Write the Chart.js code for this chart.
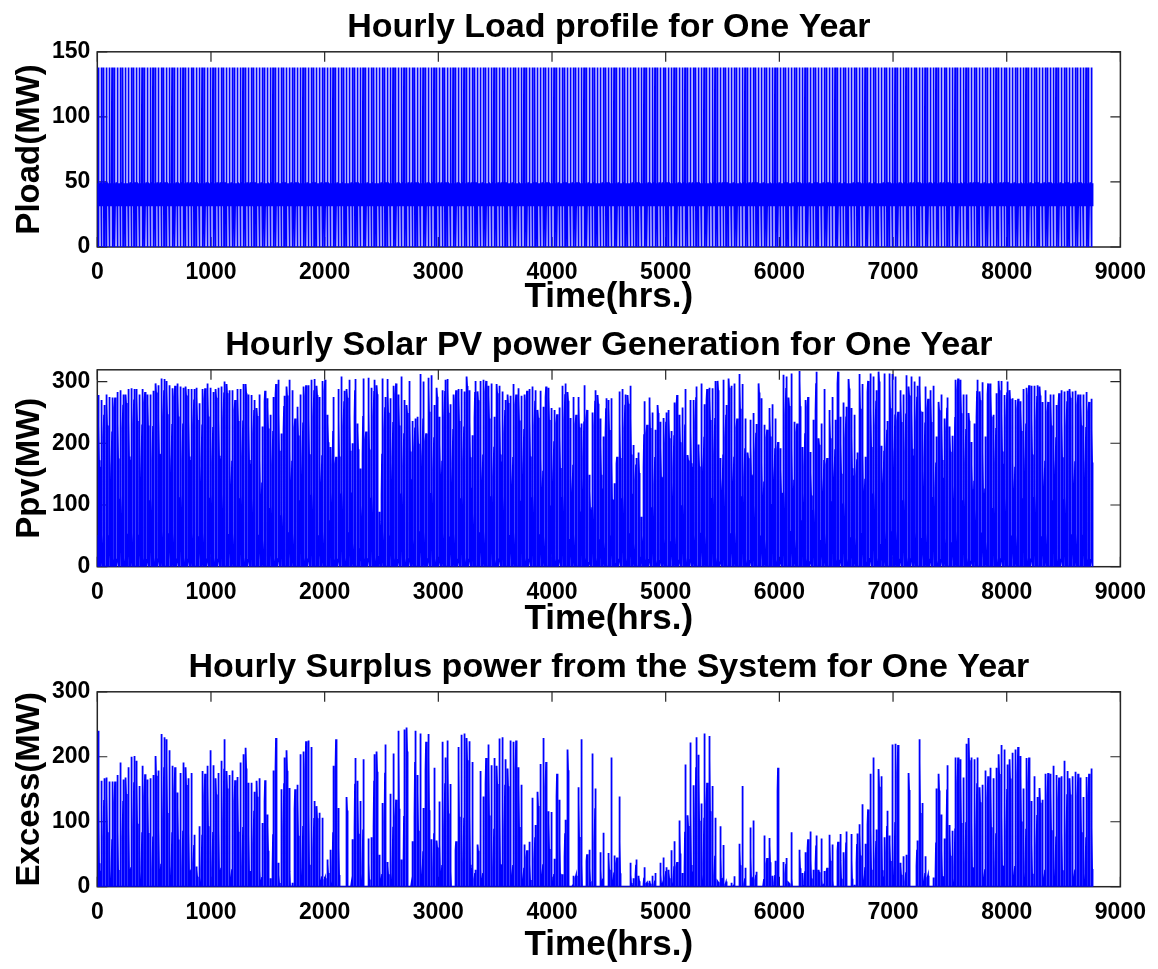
<!DOCTYPE html>
<html>
<head>
<meta charset="utf-8">
<title>Hourly Load, PV and Surplus Power</title>
<script src="https://cdn.jsdelivr.net/npm/chart.js@4.4.1/dist/chart.umd.min.js"></script>
<style>
  html, body { margin: 0; padding: 0; background: #fff; }
  #wrap { position: relative; width: 1158px; height: 969px; overflow: hidden; }
  canvas { position: absolute; left: 0; }
</style>
</head>
<body>
<div id="wrap">
  <canvas id="load-chart" width="1158" height="318" style="top:0px"></canvas>
  <canvas id="pv-chart" width="1158" height="322" style="top:318px"></canvas>
  <canvas id="excess-chart" width="1158" height="329" style="top:640px"></canvas>
</div>
<script>
// Hourly load, PV generation and surplus over one year (8760 h)
// Each day is built from that day's peak and a 24-hour profile.

const hourTicks = [0, 1000, 2000, 3000, 4000, 5000, 6000, 7000, 8000, 9000];
const loadTicks = [0, 50, 100, 150];
const pvTicks = [0, 100, 200, 300];
const excessTicks = [0, 100, 200, 300];

// load (MW) for each hour of a day, same every day
const loadDay = [32, 32, 32, 32, 32, 49, 49, 32, 49, 49, 138, 0, 32, 49, 49, 32, 49, 49, 32, 49, 49, 32, 32, 32];

// share of the day's peak for each hour
const pvShape = [0, 0, 0, 0, 0, 0, 0.04, 0.18, 0.38, 0.6, 0.8, 0.94, 1, 0.95, 0.82, 0.62, 0.4, 0.19, 0.05, 0, 0, 0, 0, 0];
const excessShape = [0, 0, 0, 0, 0, 0, 0, 0, 0, 0.15, 0.45, 0.8, 1, 0.85, 0.5, 0.15, 0, 0, 0, 0, 0, 0, 0, 0];

// daily PV peak (MW), day 1..365
const pvPeak = [
  278, 270, 262, 279, 275, 274, 274, 283, 286, 279,
  279, 288, 289, 288, 288, 279, 288, 283, 279, 279,
  285, 297, 294, 305, 304, 301, 294, 289, 293, 297,
  292, 290, 292, 288, 288, 288, 290, 265, 288, 289,
  297, 290, 283, 288, 290, 292, 300, 296, 286, 286,
  270, 288, 288, 296, 296, 279, 278, 270, 257, 279,
  227, 285, 273, 246, 275, 296, 303, 216, 277, 292,
  303, 286, 240, 259, 279, 292, 294, 294, 303, 304,
  293, 275, 301, 303, 246, 194, 275, 178, 288, 308,
  285, 288, 303, 200, 304, 232, 159, 305, 219, 306,
  290, 303, 294, 89, 305, 275, 304, 273, 293, 297,
  279, 308, 270, 262, 301, 236, 240, 243, 312, 300,
  216, 306, 310, 262, 290, 243, 286, 303, 304, 263,
  279, 286, 288, 288, 284, 308, 286, 213, 301, 284,
  301, 303, 301, 293, 297, 243, 296, 293, 284, 270,
  279, 277, 296, 279, 289, 277, 279, 285, 288, 292,
  286, 254, 285, 259, 292, 290, 257, 254, 247, 258,
  293, 297, 283, 241, 275, 246, 275, 232, 294, 254,
  149, 250,
  286, 278, 240, 211, 273, 270, 273, 135, 178, 284,
  288, 279, 278, 293, 197, 176, 185, 81, 268, 230,
  274, 250, 222, 262, 235, 241, 250, 254, 220, 266,
  278, 246, 258, 288, 181, 270, 270, 292, 198, 297,
  263, 288, 290, 289, 301, 301, 176, 303, 262, 305,
  293, 297, 240, 312, 296, 240, 185, 238, 249, 231,
  297, 273, 230, 222, 257, 263, 240, 202, 192, 311,
  308, 274, 313, 235, 232, 317, 194, 270, 275, 186,
  238, 316, 208, 232, 288, 176, 254, 275, 238, 316,
  243, 266, 259, 304, 257, 246, 185, 312, 296, 178,
  301, 313, 308, 286, 316, 196, 313, 236, 313, 312,
  308, 251, 286, 279, 310, 292, 308, 300, 293, 308,
  251, 292, 272, 286, 293, 211, 267, 279, 240, 274,
  227, 212, 303, 305, 303, 279, 279, 249, 202, 232,
  303, 284, 299, 211, 297, 297, 246, 281, 301, 301,
  278, 300, 286, 273, 270, 272, 268, 288, 290, 294,
  293, 293, 294, 292, 267, 286, 267, 279, 279, 262,
  281, 286, 284, 285, 288, 284, 285, 279, 279, 279,
  283, 267, 272
];

// daily surplus peak (MW), day 1..365
const excessPeak = [
  240, 163, 167, 168, 162, 162, 162, 172, 191, 165,
  168, 184, 200, 201, 194, 155, 186, 173, 165, 167,
  172, 201, 179, 235, 230, 227, 210, 186, 184, 145,
  175, 191, 184, 167, 175, 80, 31, 93, 178, 174,
  186, 210, 187, 167, 175, 194, 227, 178, 172, 179,
  164, 169, 191, 204, 214, 160, 160, 146, 163, 167,
  98, 164, 111, 13, 179, 229, 37, 150, 199, 210,
  152, 6, 150, 157, 204, 208, 224, 225, 215, 132,
  124, 114, 106, 13, 42, 57, 186, 227, 121, 0,
  0, 138, 0, 73, 198, 163, 132, 196, 0, 74,
  76, 204, 208, 49, 129, 219, 38, 143, 205, 134,
  240, 42, 242, 245, 0, 70, 240, 172, 236, 121,
  223, 235, 73, 183, 71, 131, 223, 199, 225, 158,
  0, 70, 215, 234, 236, 229, 224, 192, 26, 65,
  178, 139, 198, 219, 187, 198, 186, 228, 230, 196,
  182, 225, 223, 225, 184, 157, 65, 56, 69, 137,
  95, 146, 189, 229, 192, 116, 115, 43, 174, 134,
  19, 103, 211, 0, 17, 17, 153, 227, 0, 50,
  57, 205, 151, 0,
  53, 83, 0, 52, 199, 48,
  45, 139, 0, 0, 0, 37, 13, 42, 17, 0,
  30, 6, 9, 17, 21, 0, 37, 45, 30, 26,
  56, 70, 38, 102, 21, 188, 110, 222, 156, 230,
  203, 128, 236, 160, 232, 155, 106, 8, 93, 64,
  8, 0, 6, 16, 0, 66, 155, 29, 0, 91,
  102, 23, 0, 0, 79, 44, 75, 17, 40, 183,
  0, 38, 44, 6, 84, 0, 0, 57, 21, 53,
  73, 85, 26, 79, 26, 74, 24, 29, 80, 65,
  0, 69, 81, 53, 85, 0, 81, 3, 82, 96,
  127, 66, 119, 174, 199, 88, 181, 170, 76, 117,
  79, 219, 220, 218, 37, 47, 49, 175, 0, 0,
  71, 227, 129, 47, 17, 0, 14, 151, 174, 111,
  74, 187, 95, 86, 199, 199, 196, 168, 220, 229,
  199, 196, 199, 153, 157, 179, 170, 183, 167, 183,
  204, 218, 211, 188, 196, 206, 211, 215, 201, 151,
  198, 199, 132, 170, 138, 152, 134, 174, 175, 174,
  186, 172, 168, 170, 194, 178, 167, 170, 177, 174,
  168, 138, 169, 174, 182
];

const FONT = '"Liberation Sans", Arial, Helvetica, sans-serif';
const AXIS_LEFT = 97.3;
const AXIS_RIGHT = 1120.4;

function dailySeries(peaks, shape) {
  const pts = [];
  peaks.forEach((peak, d) => {
    shape.forEach((f, h) => pts.push({ x: d * 24 + h, y: peak * f }));
  });
  return pts;
}

function loadSeries(days) {
  const pts = [];
  for (let d = 0; d < days; d++) {
    loadDay.forEach((v, h) => pts.push({ x: d * 24 + h, y: v }));
  }
  return pts;
}

// box around the plot area with inward tick marks on all four sides
const axesBox = {
  id: 'axesBox',
  beforeDatasetsDraw(chart) {
    const { ctx, chartArea: a, scales } = chart;
    const len = 10;
    ctx.save();
    ctx.strokeStyle = '#262626';
    ctx.lineWidth = 1.5;
    ctx.strokeRect(a.left, a.top, a.right - a.left, a.bottom - a.top);
    ctx.lineWidth = 1.2;
    ctx.beginPath();
    scales.x.ticks.forEach(t => {
      const x = scales.x.getPixelForValue(t.value);
      ctx.moveTo(x, a.bottom); ctx.lineTo(x, a.bottom - len);
      ctx.moveTo(x, a.top); ctx.lineTo(x, a.top + len);
    });
    scales.y.ticks.forEach(t => {
      const y = scales.y.getPixelForValue(t.value);
      ctx.moveTo(a.left, y); ctx.lineTo(a.left + len, y);
      ctx.moveTo(a.right, y); ctx.lineTo(a.right - len, y);
    });
    ctx.stroke();
    ctx.restore();
  }
};

function makeChart(id, points, yTicks, yMax, title, yTitle, plotBottom, padBottom) {
  const canvas = document.getElementById(id);
  const padLeft = 10;
  return new Chart(canvas, {
    type: 'line',
    data: {
      datasets: [{
        data: points,
        borderColor: '#0000ff',
        borderWidth: 1.8,
        pointRadius: 0,
        tension: 0,
        fill: false
      }]
    },
    options: {
      responsive: false,
      animation: false,
      events: [],
      layout: { padding: { top: 4, left: padLeft, right: 1158 - AXIS_RIGHT, bottom: padBottom } },
      plugins: {
        legend: { display: false },
        tooltip: { enabled: false },
        title: {
          display: true,
          fullSize: false,
          text: title,
          color: '#000',
          font: { family: FONT, size: 34, weight: 'bold' },
          padding: { top: 3, bottom: 4 }
        }
      },
      scales: {
        x: {
          type: 'linear',
          min: 0,
          max: 9000,
          grid: { display: false, drawTicks: false },
          border: { display: false },
          afterBuildTicks: s => { s.ticks = hourTicks.map(v => ({ value: v })); },
          afterFit: s => { s.height = canvas.height - padBottom - plotBottom; },
          ticks: {
            color: '#000',
            font: { family: FONT, size: 23, weight: 'bold' },
            padding: 12,
            maxRotation: 0,
            autoSkip: false,
            callback: v => String(v)
          },
          title: {
            display: true,
            text: 'Time(hrs.)',
            color: '#000',
            font: { family: FONT, size: 35, weight: 'bold' },
            padding: 0
          }
        },
        y: {
          min: 0,
          max: yMax,
          grid: { display: false, drawTicks: false },
          border: { display: false },
          afterBuildTicks: s => { s.ticks = yTicks.map(v => ({ value: v })); },
          afterFit: s => { s.width = AXIS_LEFT - padLeft; },
          ticks: {
            color: '#000',
            font: { family: FONT, size: 23, weight: 'bold' },
            padding: 7,
            callback: v => String(v)
          },
          title: {
            display: true,
            text: yTitle,
            color: '#000',
            font: { family: FONT, size: 33, weight: 'bold' },
            padding: 0
          }
        }
      }
    },
    plugins: [axesBox]
  });
}

makeChart('load-chart', loadSeries(365), loadTicks, 150,
  'Hourly Load profile for One Year', 'Pload(MW)', 247, 0);
makeChart('pv-chart', dailySeries(pvPeak, pvShape), pvTicks, 319,
  'Hourly Solar PV power Generation for One Year', 'Ppv(MW)', 248.7, 0);
makeChart('excess-chart', dailySeries(excessPeak, excessShape), excessTicks, 300,
  'Hourly Surplus power from the System for One Year', 'Excess(MW)', 246.7, 3);
</script>
</body>
</html>
